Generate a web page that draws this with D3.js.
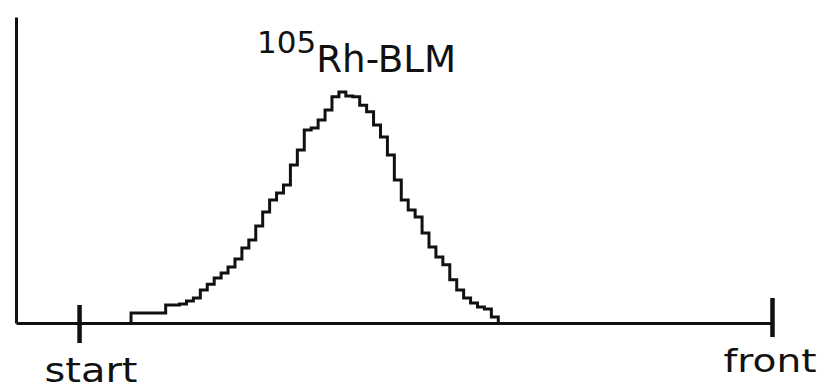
<!DOCTYPE html>
<html>
<head>
<meta charset="utf-8">
<script src="https://cdn.jsdelivr.net/npm/d3@7"></script>
<style>
  body { margin: 0; background: #fff; }
  text { font-family: "DejaVu Sans", sans-serif; fill: #111; }
</style>
</head>
<body>
<div id="chart"></div>
<script>
// radio-TLC scan: channel position (start = 0, front = 100) and counts
const binStart = 7.5;
const binWidth = 1;
const counts = [
  3.3, 3.3, 3.3, 3.3, 3.3, 5.9, 5.9, 6.2, 7.2, 8.2,
  10.8, 12.7, 14.7, 16.3, 18.3, 20.9, 24.5, 27.1, 31.7, 36.3,
  40.2, 42.5, 45.1, 51.6, 56.5, 63.1, 63.7, 66.3, 69.6, 73.9,
  75.5, 74.2, 73.9, 71.2, 69.0, 64.7, 60.8, 54.9, 46.7, 40.2,
  36.9, 34.6, 29.4, 24.8, 21.6, 19.0, 14.1, 10.8, 8.2, 6.5,
  5.2, 4.6, 2.0
];
const markPos = [0, 100];
const markLabels = ["start", "front"];
const peakLabel = ["105", "Rh-BLM"];

const width = 821, height = 390;

const svg = d3.select("#chart").append("svg")
  .attr("width", width)
  .attr("height", height);

const x = d3.scaleLinear().domain([-9.1, 100]).range([16, 772]);
const y = d3.scaleLinear().domain([0, 100]).range([323, 17]);

// y axis: just the line
svg.append("g")
  .attr("transform", `translate(${x(-9.1)},0)`)
  .call(d3.axisLeft(y).tickValues([]).tickSizeOuter(0))
  .select(".domain")
    .attr("stroke", "#111")
    .attr("stroke-width", 3);

// x axis with start / front marks
const xAxis = svg.append("g")
  .attr("transform", `translate(0,${y(0)})`)
  .call(d3.axisBottom(x).tickValues(markPos).tickSizeOuter(0).tickFormat(""));

xAxis.select(".domain")
  .attr("stroke", "#111")
  .attr("stroke-width", 3);

xAxis.selectAll(".tick line")
  .attr("stroke", "#111")
  .attr("stroke-width", 4.5)
  .attr("y1", (d, i) => i == 0 ? -18 : -25)
  .attr("y2", (d, i) => i == 0 ? 20 : 14);

// histogram as a step line
const pts = [[binStart, 0]];
counts.forEach((c, i) => pts.push([binStart + i * binWidth, c]));
pts.push([binStart + counts.length * binWidth, 0]);

const line = d3.line()
  .x(d => x(d[0]))
  .y(d => y(d[1]))
  .curve(d3.curveStepAfter);

svg.append("path")
  .datum(pts)
  .attr("fill", "none")
  .attr("stroke", "#111")
  .attr("stroke-width", 3)
  .attr("stroke-linejoin", "miter")
  .attr("d", line);

// labels under the marks
svg.append("text")
  .attr("x", x(markPos[0]) + 12)
  .attr("y", 382)
  .attr("text-anchor", "middle")
  .style("font-size", "33px")
  .attr("textLength", 93)
  .attr("lengthAdjust", "spacingAndGlyphs")
  .text(markLabels[0]);

svg.append("text")
  .attr("x", x(markPos[1]) - 2)
  .attr("y", 372)
  .attr("text-anchor", "middle")
  .style("font-size", "32px")
  .attr("textLength", 93)
  .attr("lengthAdjust", "spacingAndGlyphs")
  .text(markLabels[1]);

// peak label
const title = svg.append("text")
  .attr("x", 257)
  .attr("y", 72);
title.append("tspan")
  .attr("dy", -19)
  .style("font-size", "31px")
  .text(peakLabel[0]);
title.append("tspan")
  .attr("dy", 19)
  .style("font-size", "37px")
  .attr("textLength", 140)
  .attr("lengthAdjust", "spacingAndGlyphs")
  .text(peakLabel[1]);
</script>
</body>
</html>
